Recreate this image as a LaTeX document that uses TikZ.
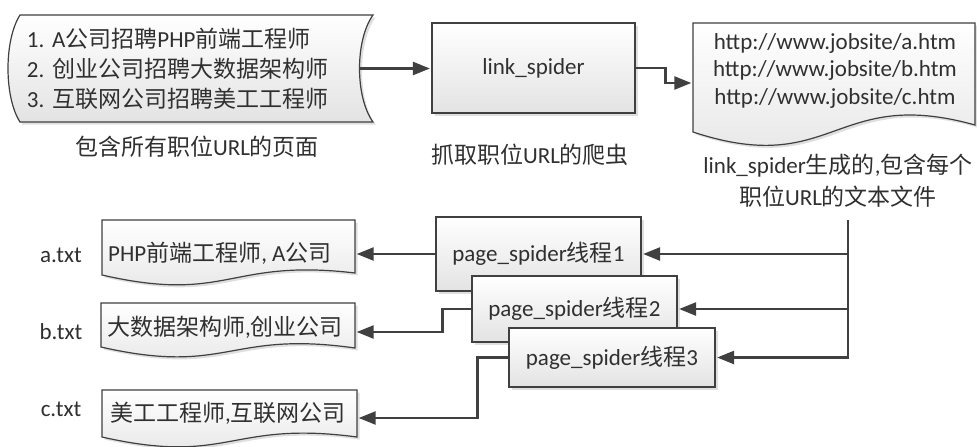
\documentclass[tikz,border=0pt]{standalone}
\usepackage{fontspec}
\setmainfont{Carlito}
\newfontfamily\zhfont{Noto Sans CJK SC}
\newcommand\zh[1]{{\zhfont #1}}
\usetikzlibrary{arrows.meta,shadows}
\definecolor{linecol}{HTML}{404040}
\definecolor{txtcol}{HTML}{303030}
\frenchspacing
\begin{document}
\begin{tikzpicture}[x=1pt,y=-1pt,
  every node/.style={text=txtcol, font=\fontsize{23}{30}\selectfont\frenchspacing, inner sep=0pt},
  conn/.style={draw=linecol, line width=2.4pt, shorten >=1.5pt, -{Triangle[length=17pt,width=13pt]}},
  shp/.style={draw=linecol, line width=1.2pt, top color=white, bottom color=black!11,
    drop shadow={shadow xshift=2.5pt, shadow yshift=-2.5pt, fill=black!35, opacity=0.35}},
  boxnode/.style={shp, rectangle}
]
\useasboundingbox (0,0) rectangle (977,447);
\fill[white] (0,0) rectangle (977,447);

% ---- source page (stored-data shape)
\path[shp] (20,15) -- (373,15) .. controls (355,40) and (355,97) .. (373,122)
  -- (20,122) .. controls (4,97) and (4,40) .. (20,15) -- cycle;
\node[text width=314pt, inner xsep=19pt, minimum height=107pt, align=left] (src) at (184,68.5)
  {1. A\zh{公司招聘}PHP\zh{前端工程师}\\2. \zh{创业公司招聘大数据架构师}\\3. \zh{互联网公司招聘美工工程师}};
\node (cap1) at (197,147) {\zh{包含所有职位}URL\zh{的页面}};

% ---- link spider
\node[boxnode, minimum width=203pt, minimum height=90pt] (ls) at (533.5,68) {link\_spider};
\node (cap2) at (530,155) {\zh{抓取职位}URL\zh{的爬虫}};

% ---- URL document
\path[shp] (693,23) -- (975,23) -- (975,125) .. controls (834,85.6) and (834,178.5) .. (693,132) -- cycle;
\node[minimum width=282pt, minimum height=120pt] (doc) at (834,83) {};
\node[align=center, font=\fontsize{23}{27.5}\selectfont] (doctext) at (835,70.5)
  {http://www.jobsite/a.htm\\http://www.jobsite/b.htm\\http://www.jobsite/c.htm};
\node[align=center, font=\fontsize{23}{32}\selectfont] (cap3) at (838,181)
  {link\_spider\zh{生成的},\zh{包含每个}\\\zh{职位}URL\zh{的文本文件}};

% ---- page spiders
\node[boxnode, minimum width=205pt, minimum height=74pt] (p1) at (538.5,254) {page\_spider\zh{线程}1};
\node[boxnode, minimum width=205pt, minimum height=66pt] (p2) at (574.5,309) {page\_spider\zh{线程}2};
\node[boxnode, minimum width=206pt, minimum height=59pt] (p3) at (612,357.5) {page\_spider\zh{线程}3};

% ---- result documents
\path[shp] (102,220) -- (355,220) -- (355,273) .. controls (228.5,258) and (228.5,304) .. (102,275) -- cycle;
\node[minimum width=253pt, minimum height=62pt] (adoc) at (228.5,251) {};
\node[anchor=west] (atext) at (108,253) {PHP\zh{前端工程师}, A\zh{公司}};
\node (alab) at (61,255) {a.txt};

\path[shp] (101,303) -- (355,303) -- (355,348) .. controls (228,330) and (228,376) .. (101,347) -- cycle;
\node[minimum width=254pt, minimum height=58pt] (bdoc) at (228,332) {};
\node[anchor=west] (btext) at (107,327) {\zh{大数据架构师},\zh{创业公司}};
\node (blab) at (61,332) {b.txt};

\path[shp] (102,390) -- (357,390) -- (357,437) .. controls (229.5,420) and (229.5,466) .. (102,437) -- cycle;
\node[minimum width=255pt, minimum height=56pt] (cdoc) at (229.5,418) {};
\node[anchor=west] (ctext) at (110,413) {\zh{美工工程师},\zh{互联网公司}};
\node (clab) at (61,409) {c.txt};

% ---- connectors
\draw[conn] (src.east) -- (src.east -| ls.west);
\draw[conn] (ls.east) -- ++(30,0) |- (doc.west);
\coordinate (trunk) at (848,220);
\draw[conn] (trunk) |- (p1.east);
\draw[conn] (trunk) |- (p2.east);
\draw[conn] (trunk) |- (p3.east);
\draw[conn] (p1.west) -- (p1.west -| adoc.east);
\draw[conn] (p2.west) -- ++(-29,0) |- (bdoc.east);
\draw[conn] (p3.west) -- ++(-31,0) |- (cdoc.east);
\end{tikzpicture}
\end{document}
